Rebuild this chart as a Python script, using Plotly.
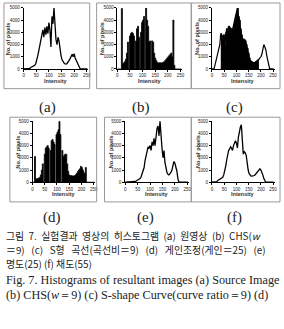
import plotly.graph_objects as go

W, H = 284, 329

# intensity levels (bin starts, step 4)
INTENSITY = list(range(0, 256, 4))

HIST_A = [0, 0, 0, 0, 0, 10, 40, 120,
          180, 220, 260, 300, 450, 700, 1100, 1500,
          2000, 2500, 2900, 3200, 2600, 3400, 2800, 3500,
          2900, 3800, 3200, 1800, 4300, 3700, 5000, 3400,
          2400, 2000, 2600, 2300, 1600, 1100, 750, 550,
          480, 420, 400, 450, 550, 700, 850, 1050,
          1200, 1000, 1250, 900, 700, 450, 250, 80,
          0, 0, 0, 0, 0, 0, 0, 0]

HIST_B = [0, 0, 0, 0, 4950, 400, 500, 600,
          800, 1300, 2200, 0, 2700, 2900, 3000, 2900,
          2700, 0, 2300, 3300, 3500, 2600, 0, 3000,
          3800, 4000, 4300, 0, 5000, 4000, 3500, 2200,
          2300, 0, 2300, 2200, 1300, 900, 700, 550,
          500, 500, 500, 500, 500, 550, 600, 700,
          800, 900, 1000, 1100, 1200, 1300, 1000, 4000,
          300, 0, 0, 0, 0, 0, 0, 0]

HIST_C = [0, 0, 0, 300, 700, 1000, 1300, 1600,
          2000, 2900, 2600, 2700, 2800, 2000, 3000, 3300,
          3100, 3500, 3400, 3000, 3300, 3200, 3600, 4000,
          4400, 4600, 5000, 4300, 4000, 3300, 2800, 2500,
          2200, 2400, 2300, 2000, 1700, 1300, 900, 700,
          600, 550, 500, 500, 550, 600, 650, 750,
          800, 900, 1000, 1200, 1500, 2000, 1800, 1600,
          1100, 700, 350, 0, 0, 0, 0, 0]

HIST_D = [0, 0, 2100, 250, 300, 300, 350, 400,
          600, 1000, 1500, 0, 2300, 2800, 2900, 3000,
          2800, 0, 2600, 3400, 3500, 3300, 3100, 0,
          3900, 4100, 4300, 5000, 3900, 0, 2600, 2100,
          2200, 2300, 2300, 1500, 900, 600, 550, 550,
          520, 500, 520, 550, 650, 750, 900, 1000,
          1100, 1300, 1200, 1000, 800, 700, 1200, 0,
          0, 0, 0, 0, 0, 0, 0, 0]

HIST_E = [0, 0, 0, 0, 0, 0, 0, 0,
          0, 20, 60, 100, 150, 200, 250, 300,
          450, 650, 900, 1200, 1800, 2200, 2600, 2900,
          2800, 3000, 2600, 3300, 3000, 3600, 3000, 4000,
          4400, 4600, 3800, 5000, 3500, 2800, 2000, 2600,
          1600, 1100, 800, 650, 600, 700, 800, 1000,
          1400, 1700, 1550, 1300, 900, 300, 0, 0,
          0, 0, 0, 0, 0, 0, 0, 0]

HIST_F = [0, 0, 0, 0, 0, 50, 150, 200,
          250, 300, 350, 400, 600, 900, 1300, 1800,
          2300, 2600, 2700, 2900, 2800, 2600, 3000, 3200,
          3400, 3200, 2800, 3700, 4200, 4500, 4700, 3300,
          2300, 2500, 2400, 2200, 1500, 1000, 700, 550,
          500, 500, 500, 550, 600, 700, 800, 900,
          1050, 1100, 1000, 850, 600, 300, 100, 0,
          0, 0, 0, 0, 0, 0, 0, 0]

PANEL_LABELS = ["(a)", "(b)", "(c)", "(d)", "(e)", "(f)"]
X_TICKS = [0, 50, 100, 150, 200, 250]
Y_TICKS = [0, 1000, 2000, 3000, 4000, 5000]
X_TITLE = "Intensity"
Y_TITLE = "No. of pixels"

CAPTION_KO = [
    "그림 7. 실험결과 영상의 히스토그램 (a) 원영상 (b) CHS(<i>w</i>",
    "＝9) (c) S형 곡선(곡선비＝9) (d) 게인조정(게인＝25) (e)",
    "명도(25) (f) 채도(55)",
]
CAPTION_EN = [
    "Fig. 7. Histograms of resultant images (a) Source Image",
    "(b) CHS(<i>w</i>＝9) (c) S-shape Curve(curve ratio＝9) (d)",
]

# layout (pixels): plot x0, x at 250, y top(5000), y bottom(0); box; label centre
PANELS = [
    dict(data=HIST_A, px0=23, px250=87, py0=6, py1=68, box=(3, 1, 90, 88), lab=(47, 107), mode="line"),
    dict(data=HIST_B, px0=118, px250=182, py0=6, py1=68, box=(97, 1, 193, 88), lab=(142, 107), mode="fill"),
    dict(data=HIST_C, px0=214, px250=276, py0=6, py1=68, box=(193, 1, 283, 88), lab=(237, 107), mode="part"),
    dict(data=HIST_D, px0=32, px250=94, py0=121, py1=183, box=(9, 117, 97, 203), lab=(52, 219), mode="fill"),
    dict(data=HIST_E, px0=126, px250=189, py0=121, py1=183, box=(105, 117, 193, 203), lab=(147, 219), mode="line"),
    dict(data=HIST_F, px0=214, px250=276, py0=121, py1=183, box=(193, 117, 283, 203), lab=(237, 219), mode="line"),
]
C_FILL = (9, 49)  # index range of filled part in panel (c)

def px(x):
    return x / W

def py(y):
    return 1 - y / H

fig = go.Figure()
shapes = []
annotations = []

for i, p in enumerate(PANELS):
    n = "" if i == 0 else str(i + 1)
    xa, ya = "x" + n, "y" + n
    vals = p["data"]
    if p["mode"] == "fill":
        fig.add_trace(go.Scatter(x=INTENSITY, y=vals, mode="lines", line=dict(color="black", width=0.8, shape="hv"),
                                 fill="tozeroy", fillcolor="black", xaxis=xa, yaxis=ya, showlegend=False))
    elif p["mode"] == "part":
        a, b = C_FILL
        fig.add_trace(go.Scatter(x=INTENSITY[a:b], y=vals[a:b], mode="lines",
                                 line=dict(color="black", width=0.8, shape="hv"),
                                 fill="tozeroy", fillcolor="black", xaxis=xa, yaxis=ya, showlegend=False))
        fig.add_trace(go.Scatter(x=INTENSITY, y=vals, mode="lines", line=dict(color="black", width=1.2),
                                 xaxis=xa, yaxis=ya, showlegend=False))
    else:
        fig.add_trace(go.Scatter(x=INTENSITY, y=vals, mode="lines", line=dict(color="black", width=1.3),
                                 xaxis=xa, yaxis=ya, showlegend=False))

    x1 = p["px0"] + (p["px250"] - p["px0"]) * 256 / 250
    axis_common = dict(showgrid=False, zeroline=False, showline=True, linecolor="black", linewidth=1,
                       ticks="outside", ticklen=2, tickwidth=0.8, tickcolor="black",
                       tickfont=dict(family="Liberation Sans", size=4.5, color="#222"))
    fig.update_layout(**{
        "xaxis" + n: dict(domain=[px(p["px0"]), px(x1)], range=[0, 256], tickvals=X_TICKS,
                          anchor=ya, **axis_common),
        "yaxis" + n: dict(domain=[py(p["py1"]), py(p["py0"])], range=[0, 5000], tickvals=Y_TICKS,
                          anchor=xa, **axis_common),
    })
    bx0, by0, bx1, by1 = p["box"]
    shapes.append(dict(type="rect", xref="paper", yref="paper", x0=px(bx0), x1=px(bx1), y0=py(by1), y1=py(by0),
                       line=dict(color="#9a9a9a", width=1)))
    annotations.append(dict(text="<b>" + X_TITLE + "</b>", xref="paper", yref="paper",
                            x=px((p["px0"] + x1) / 2), y=py(p["py1"] + 12), showarrow=False,
                            font=dict(family="Liberation Sans", size=5.5, color="#333"),
                            xanchor="center", yanchor="middle"))
    annotations.append(dict(text="<b>" + Y_TITLE + "</b>", xref="paper", yref="paper",
                            x=px(p["px0"] - 15), y=py((p["py0"] + p["py1"]) / 2), showarrow=False, textangle=-90,
                            font=dict(family="Liberation Sans", size=5.5, color="#333"),
                            xanchor="center", yanchor="middle"))
    lx, ly = p["lab"]
    annotations.append(dict(text=PANEL_LABELS[i], xref="paper", yref="paper", x=px(lx), y=py(ly),
                            showarrow=False, font=dict(family="Liberation Serif", size=15, color="#222"),
                            xanchor="center", yanchor="middle"))

# caption lines: (text, centre y px, extra spaces per word gap for justification)
NBSP = "\u00a0"
KO_LAYOUT = [(237.5, 2), (252, 3), (266.5, 1)]
EN_LAYOUT = [(282, 1), (298, 1)]
for t, (y, k) in zip(CAPTION_KO, KO_LAYOUT):
    annotations.append(dict(text=t.replace(" ", NBSP * k).replace("<i>w</i>", "<i>w</i>"),
                            xref="paper", yref="paper", x=px(3), y=py(y), showarrow=False,
                            font=dict(family="Noto Sans CJK KR", size=9.9, color="#222"),
                            xanchor="left", yanchor="middle"))
for t, (y, k) in zip(CAPTION_EN, EN_LAYOUT):
    annotations.append(dict(text=t, xref="paper", yref="paper", x=px(3), y=py(y), showarrow=False,
                            font=dict(family="Liberation Serif", size=12.2, color="#222"),
                            xanchor="left", yanchor="middle"))

fig.update_layout(width=W, height=H, margin=dict(l=0, r=0, t=0, b=0), paper_bgcolor="white",
                  plot_bgcolor="white", shapes=shapes, annotations=annotations, showlegend=False)

fig.write_html("out.html")
